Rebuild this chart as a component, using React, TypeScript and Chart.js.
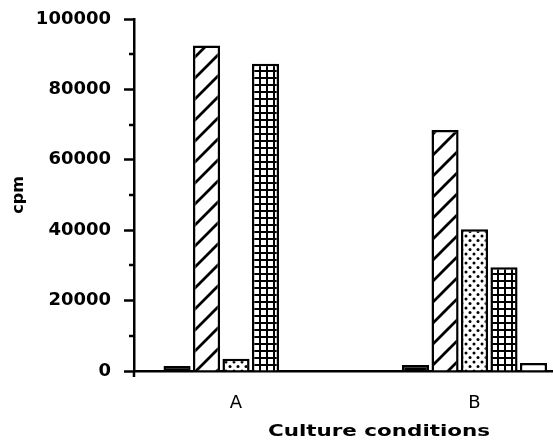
import React, { useEffect, useRef } from "react";
import { Chart, registerables } from "chart.js";

Chart.register(...registerables);

// ---- data ----
const categories = ["A", "B"];
const categoryPositions = [1, 2];
const seriesSolid = [1400, 1700];
const seriesDiagonal = [92500, 68500];
const seriesDotted = [3500, 40300];
const seriesGrid = [87300, 29500];
const seriesOpen = [0, 2300];
const yTicks = [0, 20000, 40000, 60000, 80000, 100000];
const yMinorTicks = [10000, 30000, 50000, 70000, 90000];

function makePattern(w: number, h: number, draw: (g: CanvasRenderingContext2D) => void) {
  const c = document.createElement("canvas");
  c.width = w;
  c.height = h;
  const g = c.getContext("2d") as CanvasRenderingContext2D;
  draw(g);
  return g.createPattern(c, "repeat") as CanvasPattern;
}

function diagonalPattern() {
  const s = 21;
  return makePattern(s, s, (g) => {
    g.fillStyle = "#fff";
    g.fillRect(0, 0, s, s);
    g.strokeStyle = "#000";
    g.lineWidth = 2.8;
    g.beginPath();
    g.moveTo(-2, s + 2);
    g.lineTo(s + 2, -2);
    g.moveTo(-2, 2);
    g.lineTo(2, -2);
    g.moveTo(s - 2, s + 2);
    g.lineTo(s + 2, s - 2);
    g.stroke();
  });
}

function dotPattern() {
  return makePattern(8, 9, (g) => {
    g.fillStyle = "#fff";
    g.fillRect(0, 0, 8, 9);
    g.fillStyle = "#000";
    g.beginPath();
    g.arc(2, 2, 1.5, 0, Math.PI * 2);
    g.fill();
    g.beginPath();
    g.arc(6, 6.5, 1.5, 0, Math.PI * 2);
    g.fill();
  });
}

function gridPattern() {
  return makePattern(7, 7, (g) => {
    g.fillStyle = "#000";
    g.fillRect(0, 0, 7, 7);
    g.fillStyle = "#fff";
    g.fillRect(2, 2, 5, 5);
  });
}

const extrasPlugin = {
  id: "extras",
  afterDraw(chart: any) {
    const ctx = chart.ctx as CanvasRenderingContext2D;
    const y = chart.scales.y;
    const left = chart.chartArea.left;
    ctx.save();
    ctx.strokeStyle = "#000";
    ctx.lineWidth = 2.5;
    yMinorTicks.forEach((v) => {
      const py = Math.round(y.getPixelForValue(v));
      ctx.beginPath();
      ctx.moveTo(left - 5, py);
      ctx.lineTo(left, py);
      ctx.stroke();
    });
    const p0 = y.getPixelForValue(0);
    ctx.beginPath();
    ctx.moveTo(left, p0);
    ctx.lineTo(left, p0 + 6);
    ctx.stroke();
    ctx.font = 'bold 16px "DejaVu Sans"';
    ctx.fillStyle = "#000";
    ctx.textAlign = "center";
    ctx.textBaseline = "middle";
    ctx.translate(379, 432);
    ctx.scale(1.34, 1);
    ctx.fillText("Culture conditions", 0, 0);
    ctx.restore();
  },
};

export default function App() {
  const ref = useRef<HTMLCanvasElement | null>(null);

  useEffect(() => {
    if (!ref.current) return;
    const toPoints = (arr: number[]) => arr.map((v, i) => ({ x: categoryPositions[i], y: v }));
    const common = {
      borderColor: "#000",
      borderWidth: 2.5,
      categoryPercentage: 0.618,
      barPercentage: 0.92,
    };
    const chart = new Chart(ref.current, {
      type: "bar",
      data: {
        datasets: [
          { ...common, label: "1", data: toPoints(seriesSolid), backgroundColor: "#000" },
          { ...common, label: "2", data: toPoints(seriesDiagonal), backgroundColor: diagonalPattern() },
          { ...common, label: "3", data: toPoints(seriesDotted), backgroundColor: dotPattern() },
          { ...common, label: "4", data: toPoints(seriesGrid), backgroundColor: gridPattern() },
          { ...common, label: "5", data: toPoints(seriesOpen), backgroundColor: "#fff" },
        ],
      } as any,
      options: {
        responsive: false,
        animation: false,
        devicePixelRatio: 1,
        layout: { padding: { top: 19, right: 0, bottom: 0, left: 0 } },
        plugins: { legend: { display: false }, tooltip: { enabled: false } },
        scales: {
          x: {
            type: "linear",
            min: 0.5723,
            max: 2.329,
            offset: false,
            z: 1,
            grid: { display: false, drawTicks: false },
            border: { display: true, color: "#000", width: 2.5 },
            afterBuildTicks: (axis: any) => {
              axis.ticks = categoryPositions.map((v) => ({ value: v }));
            },
            afterFit: (axis: any) => {
              axis.height = 75;
              axis.paddingLeft = 0;
              axis.paddingRight = 0;
            },
            ticks: {
              color: "#000",
              padding: 22,
              font: { family: "DejaVu Sans", size: 18, weight: "normal" },
              callback: (v: any) => {
                const i = categoryPositions.indexOf(Number(v));
                return i >= 0 ? categories[i] : "";
              },
            },
          },
          y: {
            min: 0,
            max: 100000,
            grid: {
              display: true,
              drawOnChartArea: false,
              drawTicks: true,
              tickLength: 10,
              tickWidth: 2.5,
              tickColor: "#000",
            },
            border: { display: true, color: "#000", width: 2.5 },
            afterBuildTicks: (axis: any) => {
              axis.ticks = yTicks.map((v) => ({ value: v }));
            },
            afterFit: (axis: any) => {
              axis.width = 134;
              axis.paddingTop = 0;
              axis.paddingBottom = 0;
            },
            ticks: {
              color: "#000",
              padding: 13,
              font: { family: "DejaVu Sans", size: 18, weight: "bold" },
              callback: (v: any) => String(v),
            },
            title: {
              display: true,
              text: "cpm",
              color: "#000",
              padding: { top: 9, bottom: 0 },
              font: { family: "DejaVu Sans", size: 16, weight: "bold" },
            },
          },
        },
      },
      plugins: [extrasPlugin],
    });
    return () => chart.destroy();
  }, []);

  return (
    <div style={{ position: "fixed", left: 0, top: 0, width: 553, height: 446, background: "#fff" }}>
      <canvas ref={ref} width={553} height={446} />
    </div>
  );
}
